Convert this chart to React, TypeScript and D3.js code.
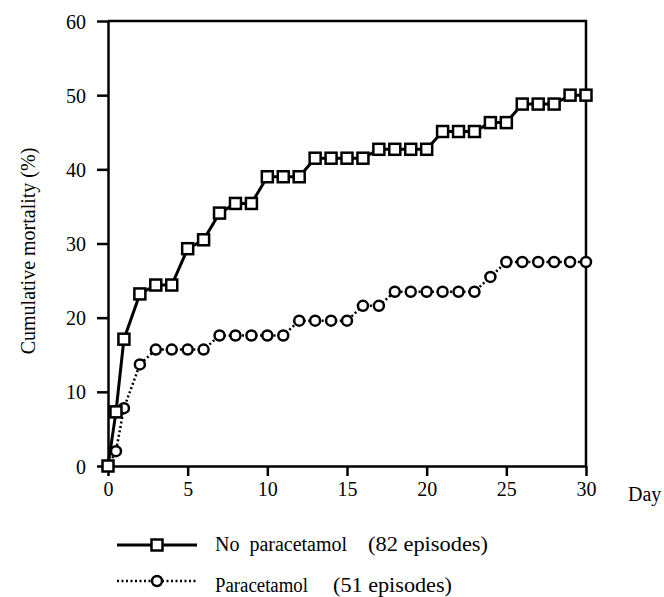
import React, { useEffect, useRef } from 'react';
import * as d3 from 'd3';

const days = [0, 0.5, 1, 2, 3, 4, 5, 6, 7, 8, 9, 10, 11, 12, 13, 14, 15, 16, 17, 18, 19, 20, 21, 22, 23, 24, 25, 26, 27, 28, 29, 30];
const noParacetamol = [0, 7.3, 17.1, 23.2, 24.4, 24.4, 29.3, 30.5, 34.1, 35.4, 35.4, 39.0, 39.0, 39.0, 41.5, 41.5, 41.5, 41.5, 42.7, 42.7, 42.7, 42.7, 45.1, 45.1, 45.1, 46.3, 46.3, 48.8, 48.8, 48.8, 50.0, 50.0];
const paracetamol = [0, 2.0, 7.8, 13.7, 15.7, 15.7, 15.7, 15.7, 17.6, 17.6, 17.6, 17.6, 17.6, 19.6, 19.6, 19.6, 19.6, 21.6, 21.6, 23.5, 23.5, 23.5, 23.5, 23.5, 23.5, 25.5, 27.5, 27.5, 27.5, 27.5, 27.5, 27.5];
const xTicks = [0, 5, 10, 15, 20, 25, 30];
const yTicks = [0, 10, 20, 30, 40, 50, 60];
const seriesNames = ['No  paracetamol', 'Paracetamol'];
const episodeLabels = ['(82 episodes)', '(51 episodes)'];

const FONT = 'Liberation Serif, DejaVu Serif, serif';

export default function App() {
  const ref = useRef<SVGSVGElement>(null);

  useEffect(() => {
    const svg = d3.select(ref.current);
    svg.selectAll('*').remove();

    const x = d3.scaleLinear().domain([0, 30]).range([108, 586]);
    const y = d3.scaleLinear().domain([0, 60]).range([466, 21]);

    // frame (top + right)
    svg.append('path')
      .attr('d', `M${x(0)},${y(60)}H${x(30)}V${y(0)}`)
      .attr('fill', 'none')
      .attr('stroke', '#000')
      .attr('stroke-width', 2.5);

    const yAxis = svg.append('g')
      .attr('transform', `translate(${x(0)},0)`)
      .call(d3.axisLeft(y).tickValues(yTicks).tickSize(11).tickSizeOuter(0).tickPadding(11));
    const xAxis = svg.append('g')
      .attr('transform', `translate(0,${y(0)})`)
      .call(d3.axisBottom(x).tickValues(xTicks).tickSize(10).tickSizeOuter(0).tickPadding(6));

    [yAxis, xAxis].forEach(a => {
      a.attr('font-family', FONT).attr('font-size', 20);
      a.selectAll('path, line').attr('stroke', '#000').attr('stroke-width', 2.5);
      a.selectAll('text').attr('fill', '#000');
    });
    yAxis.selectAll('text').attr('dy', '0.35em');

    const label = (sel: d3.Selection<SVGTextElement, unknown, null, undefined>) =>
      sel.attr('font-family', FONT).attr('font-size', 20).attr('fill', '#000');

    svg.append('text')
      .attr('x', 628).attr('y', 501)
      .call(label)
      .text('Day');

    svg.append('text')
      .attr('transform', `translate(35,251) rotate(-90)`)
      .attr('text-anchor', 'middle')
      .call(label)
      .text('Cumulative mortality (%)');

    const line = d3.line<number>()
      .x((d, i) => x(days[i]))
      .y(d => y(d));

    // paracetamol (dotted, circles)
    svg.append('path')
      .datum(paracetamol)
      .attr('fill', 'none')
      .attr('stroke', '#000')
      .attr('stroke-width', 2.5)
      .attr('stroke-dasharray', '2,2.5')
      .attr('d', line);
    svg.append('g').selectAll('circle')
      .data(paracetamol)
      .join('circle')
      .attr('cx', (d, i) => x(days[i]))
      .attr('cy', d => y(d))
      .attr('r', 5)
      .attr('fill', '#fff')
      .attr('stroke', '#000')
      .attr('stroke-width', 2.5);

    // no paracetamol (solid, squares)
    svg.append('path')
      .datum(noParacetamol)
      .attr('fill', 'none')
      .attr('stroke', '#000')
      .attr('stroke-width', 3)
      .attr('d', line);
    svg.append('g').selectAll('rect')
      .data(noParacetamol)
      .join('rect')
      .attr('x', (d, i) => x(days[i]) - 5.5)
      .attr('y', d => y(d) - 5.5)
      .attr('width', 11)
      .attr('height', 11)
      .attr('fill', '#fff')
      .attr('stroke', '#000')
      .attr('stroke-width', 2.5);

    // legend
    const lg = svg.append('g');
    lg.append('line').attr('x1', 117).attr('x2', 197).attr('y1', 545).attr('y2', 545)
      .attr('stroke', '#000').attr('stroke-width', 3);
    lg.append('rect').attr('x', 151.5).attr('y', 539.5).attr('width', 11).attr('height', 11)
      .attr('fill', '#fff').attr('stroke', '#000').attr('stroke-width', 2.5);
    lg.append('line').attr('x1', 117).attr('x2', 197).attr('y1', 581).attr('y2', 581)
      .attr('stroke', '#000').attr('stroke-width', 2.5).attr('stroke-dasharray', '2,2.5');
    lg.append('circle').attr('cx', 157).attr('cy', 581).attr('r', 5)
      .attr('fill', '#fff').attr('stroke', '#000').attr('stroke-width', 2.5);

    const rows = [
      { y: 551, lw: 132, nx: 368, nw: 120 },
      { y: 592, lw: 93, nx: 333, nw: 119 },
    ];
    rows.forEach((r, i) => {
      lg.append('text').attr('x', 215).attr('y', r.y)
        .call(label).style('white-space', 'pre')
        .attr('textLength', r.lw).attr('lengthAdjust', 'spacingAndGlyphs')
        .text(seriesNames[i]);
      lg.append('text').attr('x', r.nx).attr('y', r.y)
        .call(label)
        .attr('textLength', r.nw).attr('lengthAdjust', 'spacingAndGlyphs')
        .text(episodeLabels[i]);
    });
  }, []);

  return (
    <svg ref={ref} width={664} height={597}
      style={{ position: 'absolute', left: 0, top: 0, background: '#fff' }} />
  );
}
